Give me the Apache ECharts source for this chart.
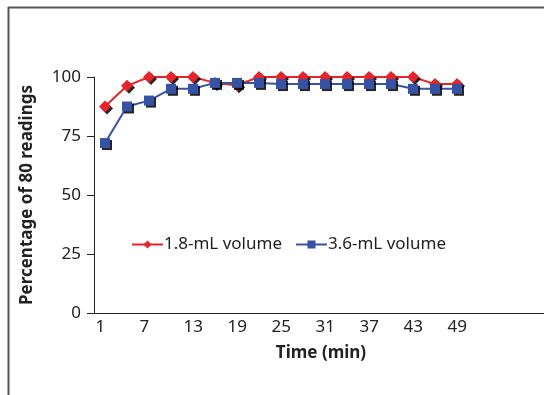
<!DOCTYPE html>
<html>
<head>
<meta charset="utf-8">
<script src="https://cdn.jsdelivr.net/npm/echarts@6/dist/echarts.min.js"></script>
<style>
html,body{margin:0;padding:0;background:#fff;}
#chart{width:544px;height:395px;}
</style>
</head>
<body>
<div id="chart"></div>
<script>
const categories = ['1','4','7','10','13','16','19','22','25','28','31','34','37','40','43','46','49','52','55','58','61'];
const labelShown = ['1','7','13','19','25','31','37','43','49'];
const vol18 = [87.5, 96.25, 100, 100, 100, 97.5, 96.5, 100, 100, 100, 100, 100, 100, 100, 100, 97, 97];
const vol36 = [72, 87.5, 90, 95, 95, 97.5, 97.5, 97.5, 97, 97, 97, 97, 97, 97, 95, 95, 95];
const yTicks = [0, 25, 50, 75, 100];

const FONT = '"Noto Sans", "Open Sans", sans-serif';
const chart = echarts.init(document.getElementById('chart'));
const shadow = {shadowColor:'rgba(0,0,0,0.85)', shadowBlur:0, shadowOffsetX:2, shadowOffsetY:2};

chart.setOption({
  animation: false,
  textStyle: {fontFamily: FONT},
  graphic: [{
    type: 'rect', left: 6, top: 5, silent: true,
    shape: {width: 700, height: 600},
    style: {fill: 'none', stroke: '#555', lineWidth: 2}
  }],
  grid: {left: 94, top: 77, width: 462, height: 236, outerBoundsMode: 'none', containLabel: false},
  legend: {
    left: 131, top: 236, padding: 0,
    itemWidth: 31, itemHeight: 10, itemGap: 13,
    textStyle: {fontSize: 17, color: '#222', fontFamily: FONT, padding: [0, 0, 0, -4]},
    data: ['1.8-mL volume', '3.6-mL volume']
  },
  xAxis: {
    type: 'category',
    data: categories,
    boundaryGap: true,
    name: 'Time (min)',
    nameLocation: 'middle',
    nameGap: 32,
    nameTextStyle: {fontSize: 17, fontWeight: 'bold', color: '#222', fontFamily: FONT, padding: [0, 8, 0, 0]},
    axisLine: {lineStyle: {color: '#222', width: 1}},
    axisTick: {interval: 0, length: 5, lineStyle: {color: '#222'}},
    axisLabel: {
      interval: 0,
      margin: 6,
      fontSize: 17,
      color: '#222',
      formatter: function (v) { return labelShown.indexOf(v) >= 0 ? '{a|' + v + '}' : ''; },
      rich: {a: {width: 19, align: 'left', fontSize: 17, color: '#222', fontFamily: FONT}}
    }
  },
  yAxis: {
    type: 'value',
    min: yTicks[0], max: yTicks[yTicks.length - 1], interval: 25,
    name: 'Percentage of 80 readings',
    nameLocation: 'middle',
    nameGap: 58,
    nameTextStyle: {fontSize: 17, fontWeight: 'bold', color: '#222', fontFamily: FONT},
    axisLine: {show: true, lineStyle: {color: '#222', width: 1}},
    axisTick: {show: true, length: 7, lineStyle: {color: '#222'}},
    axisLabel: {margin: 13, fontSize: 17, color: '#222', fontFamily: FONT},
    splitLine: {show: false}
  },
  series: [
    {
      name: '1.8-mL volume', type: 'line', data: vol18,
      symbol: 'diamond', symbolSize: 12,
      lineStyle: {color: '#e8232a', width: 2},
      itemStyle: Object.assign({color: '#e8232a'}, shadow),
      z: 2
    },
    {
      name: '3.6-mL volume', type: 'line', data: vol36,
      symbol: 'rect', symbolSize: 10,
      lineStyle: {color: '#3652a3', width: 2},
      itemStyle: Object.assign({color: '#3652a3'}, shadow),
      z: 3
    }
  ]
});
</script>
</body>
</html>
